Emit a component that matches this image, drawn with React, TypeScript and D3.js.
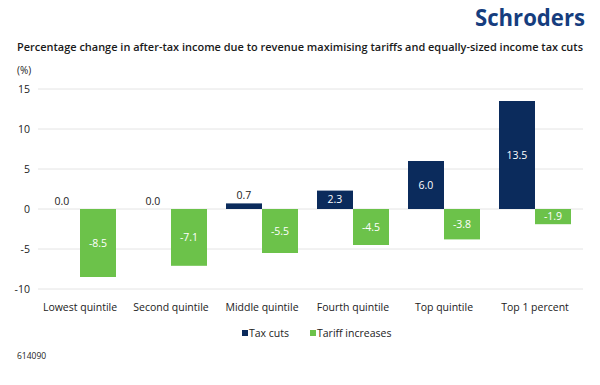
import React from "react";
import * as d3 from "d3";

const categories = [
  "Lowest quintile",
  "Second quintile",
  "Middle quintile",
  "Fourth quintile",
  "Top quintile",
  "Top 1 percent",
];
const seriesNames = ["Tax cuts", "Tariff increases"];
const taxCuts = [0.0, 0.0, 0.7, 2.3, 6.0, 13.5];
const tariffIncreases = [-8.5, -7.1, -5.5, -4.5, -3.8, -1.9];
const yTicks = [15, 10, 5, 0, -5, -10];
const colors = ["#0b2b5c", "#6cc24a"];

const W = 600;
const H = 385;
const font = "'Open Sans', 'Noto Sans', sans-serif";

export default function App() {
  const x0 = d3
    .scaleBand<string>()
    .domain(categories)
    .range([34.5, 580.5])
    .paddingInner(0.2088)
    .paddingOuter(0.1044);
  const x1 = d3
    .scaleBand<string>()
    .domain(seriesNames)
    .range([0, x0.bandwidth()]);
  const y = d3.scaleLinear().domain([-10, 15]).range([289, 89]);

  const series = [taxCuts, tariffIncreases];

  return (
    <svg
      width={W}
      height={H}
      style={{ position: "absolute", left: 0, top: 0, background: "#fff" }}
      fontFamily={font}
    >
      <text
        x={585}
        y={26}
        textAnchor="end"
        fontSize={24}
        fontWeight={700}
        fill="#163d7e"
        textLength={110}
        lengthAdjust="spacingAndGlyphs"
      >
        Schroders
      </text>
      <text
        x={17}
        y={51}
        fontSize={11}
        fill="#1a1a1a"
        fontWeight={600}
        textLength={566}
        lengthAdjust="spacingAndGlyphs"
      >
        Percentage change in after-tax income due to revenue maximising tariffs and equally-sized income tax cuts
      </text>
      <text x={17} y={74} fontSize={10} fill="#222">
        (%)
      </text>

      {yTicks.map((t) => (
        <g key={t}>
          <line x1={38} x2={583} y1={y(t)} y2={y(t)} stroke="#e4e4e4" strokeWidth={1} />
          <text x={30} y={y(t)} dy="0.35em" textAnchor="end" fontSize={10.5} fill="#222">
            {t}
          </text>
        </g>
      ))}

      {categories.map((c, i) => (
        <g key={c} transform={`translate(${x0(c)},0)`}>
          {series.map((vals, s) => {
            const v = vals[i];
            const top = y(Math.max(0, v));
            const h = Math.abs(y(v) - y(0));
            const bx = x1(seriesNames[s]) as number;
            const bw = x1.bandwidth();
            const inside = h >= 12;
            const ly = inside ? top + h / 2 : y(v) - 8;
            return (
              <g key={s}>
                {h > 0 && <rect x={bx} y={top} width={bw} height={h} fill={colors[s]} />}
                <text
                  x={bx + bw / 2}
                  y={ly}
                  dy="0.35em"
                  textAnchor="middle"
                  fontSize={10.5}
                  fill={inside ? "#fff" : "#222"}
                >
                  {v.toFixed(1)}
                </text>
              </g>
            );
          })}
          <text
            x={x0.bandwidth() / 2}
            y={307}
            dy="0.35em"
            textAnchor="middle"
            fontSize={10.5}
            fill="#222"
          >
            {c}
          </text>
        </g>
      ))}

      <g transform="translate(242,333)">
        <rect x={0} y={-3} width={6} height={6} fill={colors[0]} />
        <text x={7} y={0} dy="0.35em" fontSize={10.5} fill="#222">
          {seriesNames[0]}
        </text>
        <rect x={68} y={-3} width={6} height={6} fill={colors[1]} />
        <text x={75} y={0} dy="0.35em" fontSize={10.5} fill="#222">
          {seriesNames[1]}
        </text>
      </g>

      <text x={17} y={356} dy="0.35em" fontSize={8.5} fill="#222">
        614090
      </text>
    </svg>
  );
}
